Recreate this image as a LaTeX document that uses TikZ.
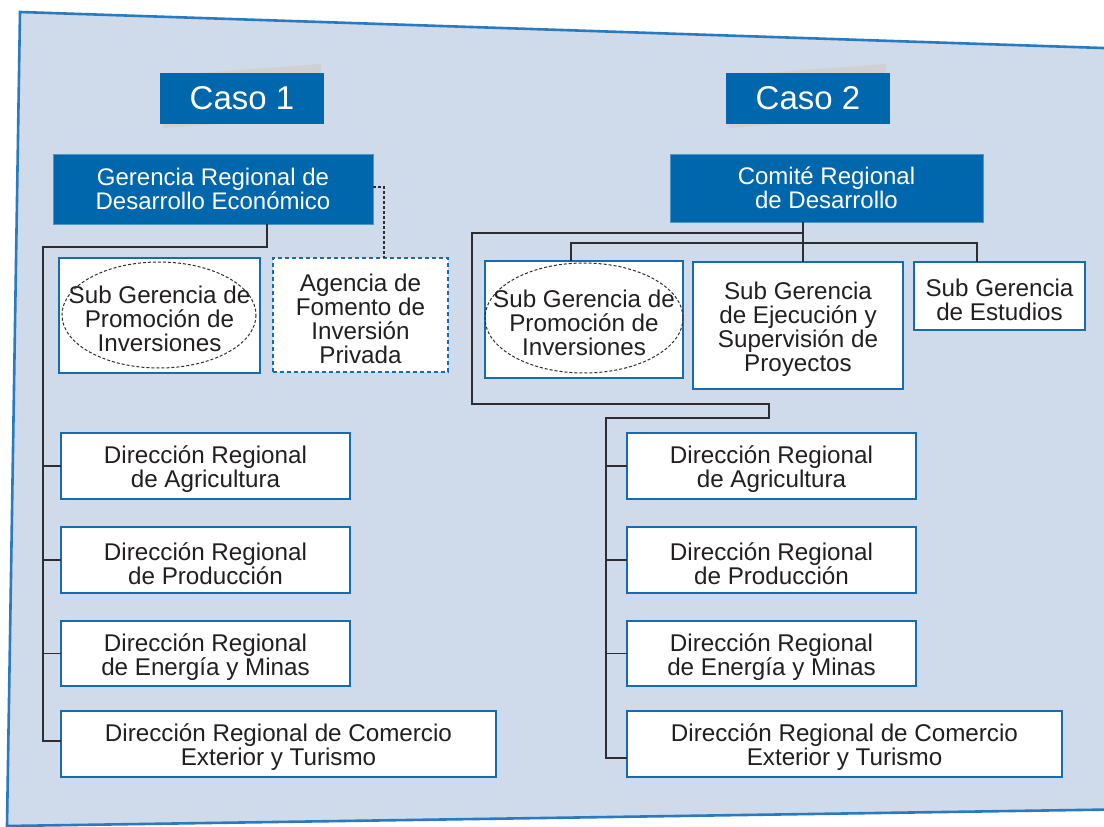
\documentclass[tikz,border=0pt]{standalone}
\usepackage{fontspec}
\setmainfont{Liberation Sans}
\usetikzlibrary{calc}
\definecolor{bgfill}{RGB}{207,218,235}
\definecolor{bgline}{RGB}{42,122,191}
\definecolor{darkblue}{RGB}{0,103,172}
\definecolor{boxline}{RGB}{22,108,178}
\definecolor{txt}{RGB}{35,31,32}
\definecolor{conn}{RGB}{45,45,50}
\definecolor{shadow}{RGB}{208,208,208}
\tikzset{
  unit/.style={draw=boxline, line width=2.6pt, fill=white, inner sep=0pt, outer sep=0pt},
  dashunit/.style={unit, dash pattern=on 4pt off 3pt},
  utext/.style={text=txt, inner sep=0pt, align=center, font=\fontsize{24.2}{24}\selectfont},
  headbox/.style={fill=darkblue, draw=darkblue!70!white, line width=0.8pt, text=white, inner sep=0pt, outer sep=0pt,
    align=center, font=\fontsize{24}{24}\selectfont},
  casobox/.style={fill=darkblue, text=white, inner sep=0pt, outer sep=0pt, font=\fontsize{33}{34}\selectfont},
  link/.style={draw=conn, line width=1.4pt},
  dlink/.style={draw=conn, line width=1.1pt, dash pattern=on 3pt off 2pt},
  oval/.style={draw=conn, line width=1pt, dash pattern=on 3pt off 2pt}
}
% \unitbox[extra style]{name}{x}{y}{width}{height}{text}
\newcommand{\unitbox}[7][unit]{%
  \node[#1, minimum width=#5pt, minimum height=#6pt] (#2) at (#3,#4) {};
  \node[utext] (#2-t) at ($(#2.center)+(0,3.5)$) {#7};
}
\begin{document}
\begin{tikzpicture}[x=1pt,y=-1pt]
\useasboundingbox (0,0) rectangle (1104,827);
% background sheet
\filldraw[fill=bgfill, draw=bgline, line width=2.6pt] (20,12) -- (1112,48.3) -- (1112,809.5) -- (7,826) -- cycle;

% Caso titles with shadows
\fill[shadow] (160,76) -- (321,64) -- (322,116) -- (163,128) -- cycle;
\fill[shadow] (726,76) -- (886,64) -- (887,116) -- (728,128) -- cycle;
\node[casobox, minimum width=164pt, minimum height=51pt] (caso1) at (242,98.5) {Caso 1};
\node[casobox, minimum width=164pt, minimum height=51pt] (caso2) at (808,98.5) {Caso 2};

% ---------------- Caso 1 ----------------
\node[headbox, minimum width=320pt, minimum height=70pt] (ger) at (213,189) {Gerencia Regional de\\Desarrollo Económico};
\unitbox{c1prom}{159.5}{315.5}{201}{115}{Sub Gerencia de\\Promoción de\\Inversiones}
\unitbox[dashunit]{agen}{360.5}{315}{175}{114}{Agencia de\\Fomento de\\Inversión\\Privada}
\draw[oval] (159,315) ellipse [x radius=97, y radius=53];

\unitbox{c1agr}{205.5}{466}{289}{66}{Dirección Regional\\de Agricultura}
\unitbox{c1pro}{205.5}{560}{289}{66}{Dirección Regional\\de Producción}
\unitbox{c1ene}{205.5}{653.5}{289}{65}{Dirección Regional\\de Energía y Minas}
\unitbox{c1com}{278.5}{744}{435}{66}{Dirección Regional de Comercio\\Exterior y Turismo}

\coordinate (c1a) at (267,247);
\coordinate (c1b) at (43,247);
\coordinate (c1end) at (43,741);
\draw[link] (ger.south -| c1a) -- (c1a) -- (c1b) -- (c1end) -- (c1com.west |- c1end);
\draw[link] (c1b |- c1agr.west) -- (c1agr.west);
\draw[link] (c1b |- c1pro.west) -- (c1pro.west);
\draw[link] (c1b |- c1ene.west) -- (c1ene.west);
\coordinate (dA) at (384,187);
\draw[dlink] (ger.east |- dA) -- (dA) -- (agen.north -| dA);

% ---------------- Caso 2 ----------------
\node[headbox, minimum width=313pt, minimum height=68pt] (com) at (826.5,188) {Comité Regional\\de Desarrollo};
\unitbox{c2prom}{584}{319.5}{198}{117}{Sub Gerencia de\\Promoción de\\Inversiones}
\draw[oval] (584,318) ellipse [x radius=99, y radius=55];
\unitbox{ejec}{798}{325.5}{210}{127}{Sub Gerencia\\de Ejecución y\\Supervisión de\\Proyectos}
\unitbox{est}{999.5}{296}{171}{68}{Sub Gerencia\\de Estudios}

\unitbox{c2agr}{771.5}{466}{289}{66}{Dirección Regional\\de Agricultura}
\unitbox{c2pro}{771.5}{560}{289}{66}{Dirección Regional\\de Producción}
\unitbox{c2ene}{771.5}{653.5}{289}{65}{Dirección Regional\\de Energía y Minas}
\unitbox{c2com}{844.5}{744}{435}{66}{Dirección Regional de Comercio\\Exterior y Turismo}

\coordinate (m1) at (803,233);
\draw[link] (com.south -| m1) -- (ejec.north -| m1);
\coordinate (l1) at (472,233);
\coordinate (l2) at (472,404);
\coordinate (l3) at (769,404);
\coordinate (l4) at (769,418);
\coordinate (l5) at (606,418);
\coordinate (l6) at (606,758);
\draw[link] (m1) -- (l1) -- (l2) -- (l3) -- (l4) -- (l5) -- (l6) -- (c2com.west |- l6);
\draw[link] (l5 |- c2agr.west) -- (c2agr.west);
\draw[link] (l5 |- c2pro.west) -- (c2pro.west);
\draw[link] (l5 |- c2ene.west) -- (c2ene.west);
\coordinate (r1) at (571,243);
\coordinate (r2) at (977,243);
\draw[link] (c2prom.north -| r1) -- (r1) -- (r2) -- (est.north -| r2);
\end{tikzpicture}
\end{document}
